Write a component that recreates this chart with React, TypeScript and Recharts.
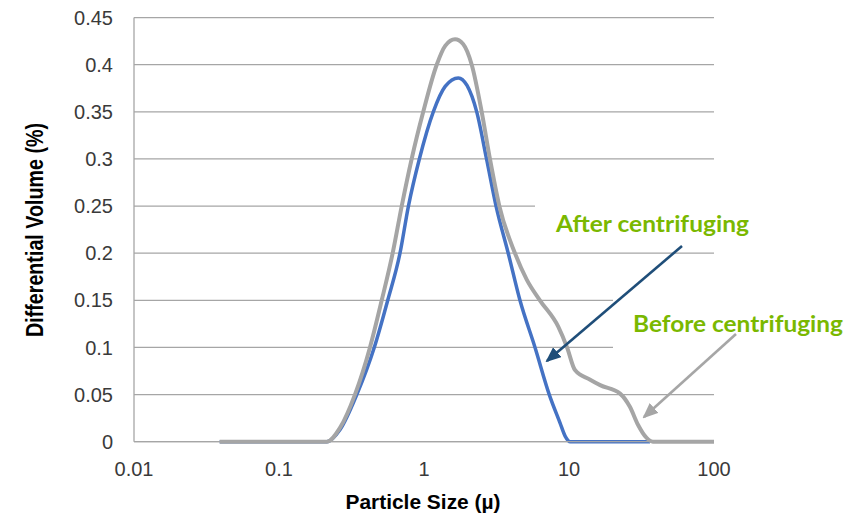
import React from 'react'
import { LineChart, Line, XAxis, YAxis, CartesianGrid } from 'recharts'

// particle size (µ) and differential volume (%)
const beforeSizes = [0.039, 0.214, 0.264, 0.334, 0.424, 0.511, 0.608, 0.702, 0.822, 0.988, 1.224, 1.4, 1.637, 1.86, 2.134, 2.5, 2.85, 3.31, 4.24, 5.11, 6.3, 8.43, 9.7, 11.0, 13.9, 16.4, 22.5, 26.3, 29.9, 34.3, 37.9, 100]
const beforeVolume = [0, 0, 0.015, 0.05, 0.1, 0.15, 0.2, 0.25, 0.3, 0.35, 0.4, 0.42, 0.427, 0.422, 0.4, 0.35, 0.3, 0.25, 0.2, 0.172, 0.15, 0.122, 0.1, 0.076, 0.066, 0.06, 0.051, 0.037, 0.018, 0.004, 0, 0]

const afterSizes = [0.039, 0.214, 0.264, 0.344, 0.454, 0.562, 0.683, 0.781, 0.929, 1.159, 1.4, 1.725, 1.98, 2.31, 2.7, 3.14, 3.81, 4.59, 5.83, 7.31, 8.67, 9.4, 10.2, 36.2]
const afterVolume = [0, 0, 0.013, 0.05, 0.1, 0.15, 0.2, 0.25, 0.3, 0.35, 0.377, 0.386, 0.378, 0.35, 0.3, 0.25, 0.2, 0.15, 0.1, 0.05, 0.02, 0.006, 0, 0]

const xTicks = [0.01, 0.1, 1, 10, 100]
const yTicks = [0, 0.05, 0.1, 0.15, 0.2, 0.25, 0.3, 0.35, 0.4, 0.45]

const beforeData = beforeSizes.map((size, i) => ({ size, volume: beforeVolume[i] }))
const afterData = afterSizes.map((size, i) => ({ size, volume: afterVolume[i] }))

const GRID = '#a6a6a6'
const TICK = { fill: '#3a3a3a', fontSize: 20, fontFamily: '"Liberation Sans", Arial, sans-serif' }
const GREEN = '#7ab800'
const TITLE_FONT = '"Liberation Sans Narrow", "Liberation Sans", Arial, sans-serif'
const NOTE_FONT = 'Lato, "Open Sans", sans-serif'

function Annotations() {
  return (
    <svg width={856} height={517} style={{ position: 'absolute', left: 0, top: 0, pointerEvents: 'none' }}>
      <defs>
        <marker id="headBlue" markerWidth="6" markerHeight="5" refX="5.2" refY="2.5" orient="auto" markerUnits="strokeWidth">
          <path d="M0,0 L6,2.5 L0,5 z" fill="#1f4e79" />
        </marker>
        <marker id="headGray" markerWidth="6" markerHeight="5" refX="5.2" refY="2.5" orient="auto" markerUnits="strokeWidth">
          <path d="M0,0 L6,2.5 L0,5 z" fill="#a6a6a6" />
        </marker>
      </defs>
      {/* text boxes hide parts of the gridlines */}
      <rect x={535} y={196} width={185} height={48} fill="#fff" />
      <rect x={613} y={290} width={107} height={66} fill="#fff" />
      <line x1={682} y1={246} x2={547} y2={361} stroke="#1f4e79" strokeWidth={2.6} markerEnd="url(#headBlue)" />
      <line x1={736} y1={334} x2={644} y2={417} stroke="#a6a6a6" strokeWidth={2.6} markerEnd="url(#headGray)" />
      <text x={556} y={232} fill={GREEN} fontSize={22} fontWeight={700} fontFamily={NOTE_FONT} textLength={193} lengthAdjust="spacingAndGlyphs">
        After centrifuging
      </text>
      <text x={633} y={332} fill={GREEN} fontSize={22} fontWeight={700} fontFamily={NOTE_FONT} textLength={210} lengthAdjust="spacingAndGlyphs">
        Before centrifuging
      </text>
      <text transform="translate(43,230) rotate(-90)" textAnchor="middle" fill="#000" fontSize={24} fontWeight={700} fontFamily={TITLE_FONT} textLength={214} lengthAdjust="spacingAndGlyphs">
        Differential Volume (%)
      </text>
      <text x={423} y={509} textAnchor="middle" fill="#000" fontSize={21} fontWeight={700} fontFamily={TITLE_FONT} textLength={155} lengthAdjust="spacingAndGlyphs">
        Particle Size (µ)
      </text>
    </svg>
  )
}

export default function App() {
  return (
    <div style={{ position: 'relative', width: 856, height: 517, background: '#fff' }}>
      <style>{'body{margin:0}'}</style>
      <LineChart width={856} height={517} margin={{ top: 17.6, right: 142, bottom: 45, left: 0 }}>
        <CartesianGrid vertical={false} stroke={GRID} strokeWidth={1.3} />
        <XAxis
          type="number"
          dataKey="size"
          scale="log"
          domain={[0.01, 100]}
          ticks={xTicks}
          allowDataOverflow
          height={30.3}
          axisLine={{ stroke: GRID, strokeWidth: 1.3 }}
          tickLine={false}
          tickSize={0}
          tickMargin={20}
          tick={TICK}
          tickFormatter={(v: number) => String(v)}
        />
        <YAxis
          type="number"
          domain={[0, 0.45]}
          ticks={yTicks}
          width={134}
          axisLine={{ stroke: GRID, strokeWidth: 1.3 }}
          tickLine={false}
          tickSize={0}
          tickMargin={21}
          tick={TICK}
          tickFormatter={(v: number) => String(v)}
        />
        <Line data={afterData} dataKey="volume" type="monotone" stroke="#4472c4" strokeWidth={3.5} dot={false} isAnimationActive={false} />
        <Line data={beforeData} dataKey="volume" type="monotone" stroke="#a5a5a5" strokeWidth={4} dot={false} isAnimationActive={false} />
      </LineChart>
      <Annotations />
    </div>
  )
}
